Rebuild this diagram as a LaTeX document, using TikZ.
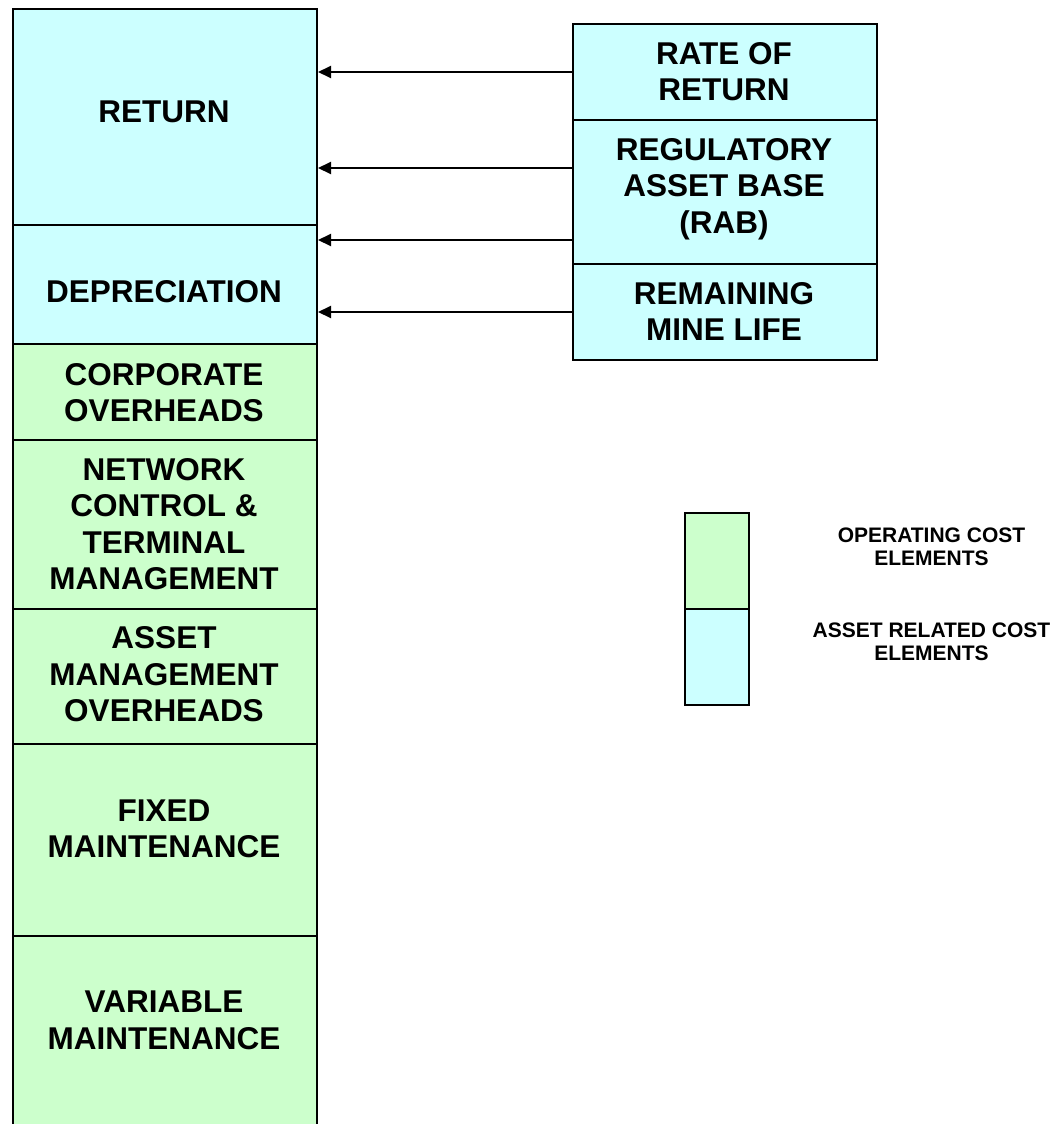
\documentclass[tikz,border=0pt]{standalone}
\usepackage{fontspec}
\setmainfont{Liberation Sans}
\usetikzlibrary{arrows.meta,calc}
\definecolor{cyanfill}{HTML}{CCFFFF}
\definecolor{greenfill}{HTML}{CCFFCC}
\begin{document}
\begin{tikzpicture}[x=1pt,y=-1pt,
  box/.style={draw=black, line width=2pt, minimum width=304pt, anchor=north west, inner sep=0pt},
  cyanbox/.style={box, fill=cyanfill},
  greenbox/.style={box, fill=greenfill},
  legbox/.style={draw=black, line width=2pt, minimum width=64pt, minimum height=96pt, anchor=north west, inner sep=0pt},
  lbl/.style={font=\fontsize{31.5}{36.5}\selectfont\bfseries, align=center, text depth=0pt, inner sep=0pt},
  leg/.style={font=\fontsize{21}{23}\selectfont\bfseries, align=center, text depth=0pt, inner sep=0pt},
  arr/.style={line width=2pt, -{Triangle[length=13pt,width=12pt]}}
]
\useasboundingbox (0,0) rectangle (1062,1124);
\clip (0,0) rectangle (1062,1124);
% left column
\node[cyanbox,  minimum height=216pt] (ret)   at (12,8)   {};
\node[cyanbox,  minimum height=119pt] (dep)   at (12,224) {};
\node[greenbox, minimum height=96pt]  (corp)  at (12,343) {};
\node[greenbox, minimum height=169pt] (net)   at (12,439) {};
\node[greenbox, minimum height=135pt] (amo)   at (12,608) {};
\node[greenbox, minimum height=192pt] (fix)   at (12,743) {};
\node[greenbox, minimum height=215pt] (var)   at (12,935) {};
\node[lbl] (tret)  at (164,111.5) {RETURN};
\node[lbl] (tdep)  at (164,291)   {DEPRECIATION};
\node[lbl] (tcorp) at (164,392.5) {CORPORATE\\OVERHEADS};
\node[lbl] (tnet)  at (164,524)   {NETWORK\\CONTROL \&\\TERMINAL\\MANAGEMENT};
\node[lbl] (tamo)  at (164,674)   {ASSET\\MANAGEMENT\\OVERHEADS};
\node[lbl] (tfix)  at (164,828.5) {FIXED\\MAINTENANCE};
\node[lbl] (tvar)  at (164,1020)  {VARIABLE\\MAINTENANCE};
% right column
\node[cyanbox, minimum height=96pt]  (rate) at (572,23)  {};
\node[cyanbox, minimum height=144pt] (rab)  at (572,119) {};
\node[cyanbox, minimum height=96pt]  (rem)  at (572,263) {};
\node[lbl] (trate) at (724,71.5)  {RATE OF\\RETURN};
\node[lbl] (trab)  at (724,186)   {REGULATORY\\ASSET BASE\\(RAB)};
\node[lbl] (trem)  at (724,311.5) {REMAINING\\MINE LIFE};
% arrows
\draw[arr] (rate.west) -- (rate.west -| ret.east);
\draw[arr] ([yshift=24pt]rab.west) -- ([yshift=24pt]rab.west -| ret.east);
\draw[arr] ([yshift=-48pt]rab.west) -- ([yshift=-48pt]rab.west -| dep.east);
\draw[arr] (rem.west) -- (rem.west -| dep.east);
% legend
\node[legbox, fill=greenfill] (lgreen) at (684,512) {};
\node[legbox, fill=cyanfill]  (lcyan)  at (684,608) {};
\node[leg] (tlgreen) at (931.5,547) {OPERATING COST\\ELEMENTS};
\node[leg] (tlcyan)  at (931.5,642) {ASSET RELATED COST\\ELEMENTS};
\end{tikzpicture}
\end{document}
